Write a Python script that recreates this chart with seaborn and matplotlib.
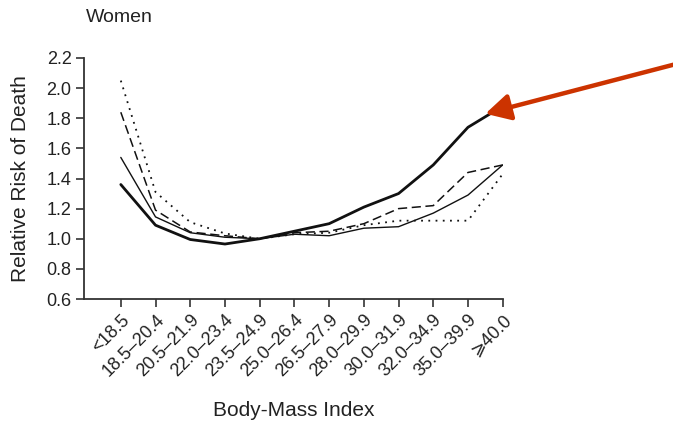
import matplotlib
matplotlib.use("Agg")
import matplotlib.pyplot as plt
import seaborn as sns
import pandas as pd

# Body-mass index categories (x axis)
categories = ["<18.5", "18.5\u201320.4", "20.5\u201321.9", "22.0\u201323.4", "23.5\u201324.9",
              "25.0\u201326.4", "26.5\u201327.9", "28.0\u201329.9", "30.0\u201331.9",
              "32.0\u201334.9", "35.0\u201339.9", "\u2a7e40.0"]

# Relative risk of death per BMI category, one list per curve
risk_thick = [1.36, 1.09, 0.995, 0.965, 1.00, 1.05, 1.10, 1.21, 1.30, 1.49, 1.74, 1.88]
risk_thin = [1.54, 1.145, 1.04, 1.01, 1.00, 1.03, 1.02, 1.07, 1.08, 1.17, 1.29, 1.49]
risk_dashed = [1.84, 1.19, 1.045, 1.02, 1.00, 1.04, 1.05, 1.10, 1.20, 1.22, 1.44, 1.49]
risk_dotted = [2.05, 1.31, 1.11, 1.035, 1.00, 1.03, 1.04, 1.09, 1.12, 1.12, 1.12, 1.43]

y_ticks = [0.6, 0.8, 1.0, 1.2, 1.4, 1.6, 1.8, 2.0, 2.2]

sns.set_theme(style="ticks")
plt.rcParams["font.family"] = ["Liberation Sans", "DejaVu Sans"]

fig = plt.figure(figsize=(6.73, 4.21), dpi=100)
ax = fig.add_axes([84 / 673, 1 - 299 / 421, 418.7 / 673, 241 / 421])

pos = list(range(len(categories)))
series = [
    ("thick", risk_thick, dict(lw=2.0, ls="-")),
    ("thin", risk_thin, dict(lw=1.0, ls="-")),
    ("dashed", risk_dashed, dict(lw=1.1, ls=(0, (6, 3)))),
    ("dotted", risk_dotted, dict(lw=1.3, ls=(0, (1, 3)))),
]
for name, vals, st in series:
    df = pd.DataFrame({"pos": pos, "risk": vals})
    sns.lineplot(data=df, x="pos", y="risk", ax=ax, color="#111111",
                 linewidth=st["lw"], linestyle=st["ls"], legend=False)

ax.set_xlim(-1.06, 11)
ax.set_ylim(0.6, 2.2)
ax.set_yticks(y_ticks)
ax.set_yticklabels([f"{v:.1f}" for v in y_ticks])
ax.set_xticks(pos)
ax.set_xticklabels(categories, rotation=45, ha="right", va="top",
                   rotation_mode="anchor")

sns.despine(ax=ax)
for side in ("left", "bottom"):
    ax.spines[side].set_color("#333333")
    ax.spines[side].set_linewidth(1.3)
ax.tick_params(axis="both", direction="out", length=6, width=1.2,
               color="#333333", labelsize=13, labelcolor="#222222", pad=3)

ax.set_xlabel("Body-Mass Index", fontsize=15, color="#222222", va="top")
ax.set_ylabel("Relative Risk of Death", fontsize=15, color="#222222")
ax.xaxis.set_label_coords(0.5, -0.425)
ax.yaxis.set_label_coords(-0.129, 0.5)

fig.text(86 / 673, 1 - 17 / 421, "Women", fontsize=14, color="#222222",
         ha="left", va="center")

# Red arrow pointing at the top end of the thick curve
ax.annotate("", xy=(10.5, 1.83), xycoords="data",
            xytext=(680, 421 - 63), textcoords="figure pixels",
            arrowprops=dict(arrowstyle="-|>,head_length=0.75,head_width=0.4",
                            mutation_scale=20, color="#cc3300", lw=3.2,
                            shrinkA=0, shrinkB=0),
            annotation_clip=False)

fig.savefig("out.png", dpi=100)
